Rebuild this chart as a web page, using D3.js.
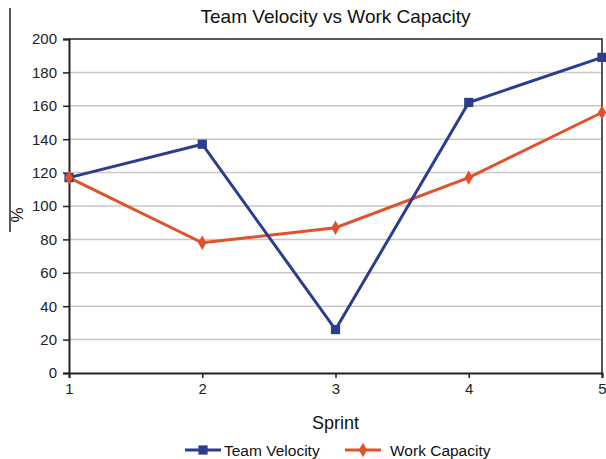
<!DOCTYPE html>
<html>
<head>
<meta charset="utf-8">
<script src="https://cdn.jsdelivr.net/npm/d3@7"></script>
<style>
  html, body { margin: 0; padding: 0; background: #fff; }
  svg { display: block; font-family: "Liberation Sans", Arial, sans-serif; }
</style>
</head>
<body>
<svg id="chart" width="606" height="459"></svg>
<script>
// Sprint numbers and the two measured series (percent)
const sprints = [1, 2, 3, 4, 5];
const teamVelocity = [117, 137, 26, 162, 189];
const workCapacity = [117, 78, 87, 117, 156];
const yTicks = [0, 20, 40, 60, 80, 100, 120, 140, 160, 180, 200];
const seriesNames = ["Team Velocity", "Work Capacity"];

const svg = d3.select("#chart");
const margin = { left: 69, right: 4, top: 39, bottom: 86 };
const W = 606, H = 459;
const x = d3.scaleLinear().domain([1, 5]).range([margin.left, W - margin.right]);
const y = d3.scaleLinear().domain([0, 200]).range([H - margin.bottom, margin.top]);

const blue = "#2b3d8c";
const red = "#e0522b";

// horizontal gridlines
svg.append("g")
  .selectAll("line")
  .data(yTicks.filter(t => t > 0 && t < 200))
  .join("line")
  .attr("x1", x(1)).attr("x2", x(5))
  .attr("y1", d => y(d)).attr("y2", d => y(d))
  .attr("stroke", "#c8c8c8").attr("stroke-width", 1.5);

// plot frame: top and right edges
svg.append("path")
  .attr("d", `M${x(1)},${y(200)}H${x(5)}V${y(0)}`)
  .attr("fill", "none").attr("stroke", "#222").attr("stroke-width", 1.5);

// y axis
const yAxis = svg.append("g")
  .attr("transform", `translate(${x(1)},0)`)
  .call(d3.axisLeft(y).tickValues(yTicks).tickSize(6).tickPadding(6));
// x axis
const xAxis = svg.append("g")
  .attr("transform", `translate(0,${y(0)})`)
  .call(d3.axisBottom(x).tickValues(sprints).tickFormat(d3.format("d")).tickSize(5).tickPadding(5));

[yAxis, xAxis].forEach(g => {
  g.select(".domain").attr("stroke", "#222").attr("stroke-width", 2);
  g.selectAll(".tick line").attr("stroke", "#222").attr("stroke-width", 1.5);
  g.selectAll(".tick text").attr("font-size", 15).attr("fill", "#222")
    .attr("font-family", "\"Liberation Sans\", Arial, sans-serif");
});

// series lines and markers
const line = d3.line().x((d, i) => x(sprints[i])).y(d => y(d));

svg.append("path").datum(workCapacity)
  .attr("d", line).attr("fill", "none")
  .attr("stroke", red).attr("stroke-width", 3);
svg.append("path").datum(teamVelocity)
  .attr("d", line).attr("fill", "none")
  .attr("stroke", blue).attr("stroke-width", 3);

const sq = d3.symbol().type(d3.symbolSquare).size(85);
const dia = d3.symbol().type(d3.symbolDiamond).size(60);

svg.append("g").selectAll("path").data(teamVelocity).join("path")
  .attr("d", sq)
  .attr("transform", (d, i) => `translate(${x(sprints[i])},${y(d)})`)
  .attr("fill", blue);
svg.append("g").selectAll("path").data(workCapacity).join("path")
  .attr("d", dia)
  .attr("transform", (d, i) => `translate(${x(sprints[i])},${y(d)})`)
  .attr("fill", red);

// titles
svg.append("text")
  .attr("x", (x(1) + x(5)) / 2).attr("y", 23)
  .attr("text-anchor", "middle").attr("font-size", 19).attr("fill", "#111")
  .text("Team Velocity vs Work Capacity");

svg.append("text")
  .attr("x", (x(1) + x(5)) / 2).attr("y", 429)
  .attr("text-anchor", "middle").attr("font-size", 18).attr("fill", "#111")
  .text("Sprint");

svg.append("line")
  .attr("x1", 10).attr("x2", 10).attr("y1", 8).attr("y2", 232)
  .attr("stroke", "#222").attr("stroke-width", 1.5);
svg.append("text")
  .attr("transform", "translate(23,215) rotate(-90)")
  .attr("text-anchor", "middle").attr("font-size", 17).attr("fill", "#111")
  .text("%");

// legend
const legend = svg.append("g").attr("transform", "translate(0,450)");
const legendItems = [
  { name: seriesNames[0], color: blue, sym: sq, x0: 185, tx: 39 },
  { name: seriesNames[1], color: red, sym: dia, x0: 345, tx: 45 }
];
legendItems.forEach(it => {
  const g = legend.append("g").attr("transform", `translate(${it.x0},0)`);
  g.append("line").attr("x1", 0).attr("x2", 36).attr("y1", 0).attr("y2", 0)
    .attr("stroke", it.color).attr("stroke-width", 3);
  g.append("path").attr("d", it.sym).attr("transform", "translate(18,0)").attr("fill", it.color);
  g.append("text").attr("x", it.tx).attr("y", 5.5)
    .attr("font-size", 15.5).attr("fill", "#111").text(it.name);
});
</script>
</body>
</html>
